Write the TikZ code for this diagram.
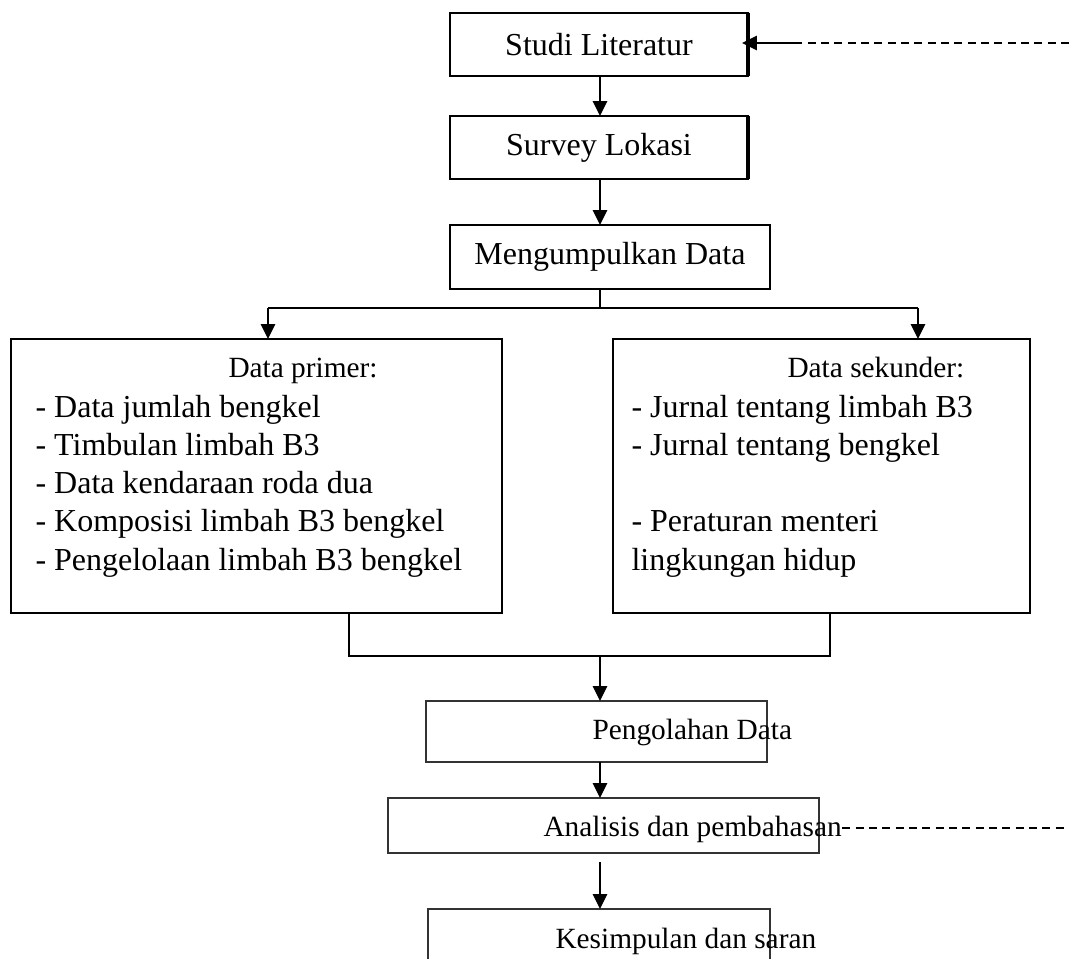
\documentclass[tikz,border=0pt]{standalone}
\usepackage{fontspec}
\setmainfont{Liberation Serif}
\usetikzlibrary{arrows.meta}
\def\px{0.375pt}
\tikzset{
	kotak/.style={draw, inner sep=0pt, outer sep=0pt, line width=0.5pt, font=\fontsize{12}{14}\selectfont},
	kotaktebal/.style={draw, inner sep=0pt, outer sep=0pt, line width=1pt},
	kotaktipis/.style={draw=black!80, inner sep=0pt, outer sep=0pt, line width=0.45pt},
	panah/.style={line width=0.6pt, -{Triangle[length=5.6pt,width=5.4pt]}},
	putus/.style={line width=0.6pt, dash pattern=on 3pt off 2pt},
	isi/.style={inner sep=0pt, anchor=base west, align=left, font=\fontsize{12}{14.34}\selectfont},
	judul/.style={inner sep=0pt, anchor=base west, font=\fontsize{11}{13}\selectfont},
}

\begin{document}
\begin{tikzpicture}[x=0.375pt, y=-0.375pt]
		%%%%% START %%%%%
		\useasboundingbox (0,0) rectangle (1069,959);
		
		\node[kotak, minimum width=298*\px, minimum height=63*\px] (studi) at (599,44.5) {Studi Literatur};
		\node[kotak, minimum width=298*\px, minimum height=63*\px] (survey) at (599,147.5) {Survey Lokasi};
		\node[kotak, minimum width=320*\px, minimum height=64*\px] (kumpul) at (610,257) {Mengumpulkan Data};
		\draw[line width=1.2pt] (studi.north east) -- (studi.south east);
		\draw[line width=1.2pt] (survey.north east) -- (survey.south east);
		
		\coordinate (cab) at (600,308);
		\coordinate (cabl) at (268,308);
		\coordinate (cabr) at (918,308);
		\draw[panah] (studi.south -| cab) -- (survey.north -| cab);
		\draw[panah] (survey.south -| cab) -- (kumpul.north -| cab);
		
		% umpan balik
		\coordinate (balik1) at (1069,43);
		\coordinate (balik1a) at (797,43);
		\draw[putus] (balik1) -- (balik1a);
		\draw[panah] (balik1a) -- ([xshift=-2.25pt]balik1a -| studi.east);
		
		% data primer / sekunder
		\node[kotaktebal, minimum width=491*\px, minimum height=274*\px] (primer) at (256.5,476) {};
		\node[kotaktebal, minimum width=417*\px, minimum height=274*\px] (sekunder) at (821.5,476) {};
		\draw[line width=0.6pt] (kumpul.south -| cab) -- (cab);
		\draw[line width=0.6pt] (cabl) -- (cabr);
		\draw[panah] (cabl) -- (cabl |- primer.north);
		\draw[panah] (cabr) -- (cabr |- sekunder.north);
		
		\node[judul] (jprimer) at (228,378) {Data primer:};
		\node[isi] (lprimer) at (35,570) {- Data jumlah bengkel\\- Timbulan limbah B3\\- Data kendaraan roda dua\\- Komposisi limbah B3 bengkel\\- Pengelolaan limbah B3 bengkel};
		\node[judul] (jsekunder) at (787,378) {Data sekunder:};
		\node[isi] (lsekunder) at (631,570) {- Jurnal tentang limbah B3\\- Jurnal tentang bengkel\\\mbox{}\\- Peraturan menteri\\lingkungan hidup};
		
		\coordinate (jl) at (349,656);
		\coordinate (jr) at (830,656);
		\coordinate (jm) at (600,656);
		\draw[line width=1pt] (jl |- primer.south) -- (jl) -- (jr) -- (jr |- sekunder.south);
		
		% bagian bawah
		\node[kotaktipis, minimum width=341*\px, minimum height=61*\px] (olah) at (596.5,731.5) {};
		\node[kotaktipis, minimum width=431*\px, minimum height=55*\px] (analisis) at (603.5,825.5) {};
		\node[kotaktipis, minimum width=342*\px, minimum height=70*\px] (simpul) at (599,944) {};
		\node[judul] (tolah) at (592,739) {Pengolahan Data};
		\node[judul] (tanalisis) at (543,836) {Analisis dan pembahasan};
		\node[judul] (tsimpul) at (555,948) {Kesimpulan dan saran};
		
		\draw[panah, line width=0.45pt] (jm) -- (jm |- olah.north);
		\draw[panah, line width=0.45pt] (jm |- olah.south) -- (jm |- analisis.north);
		\draw[panah, line width=0.45pt] ([yshift=-3.4pt]jm |- analisis.south) -- (jm |- simpul.north);
		
		\coordinate (balik2) at (1069,828);
		\draw[putus] (balik2 -| tanalisis.east) -- (balik2);
		
		%%%%% END %%%%%
\end{tikzpicture}
\end{document}
